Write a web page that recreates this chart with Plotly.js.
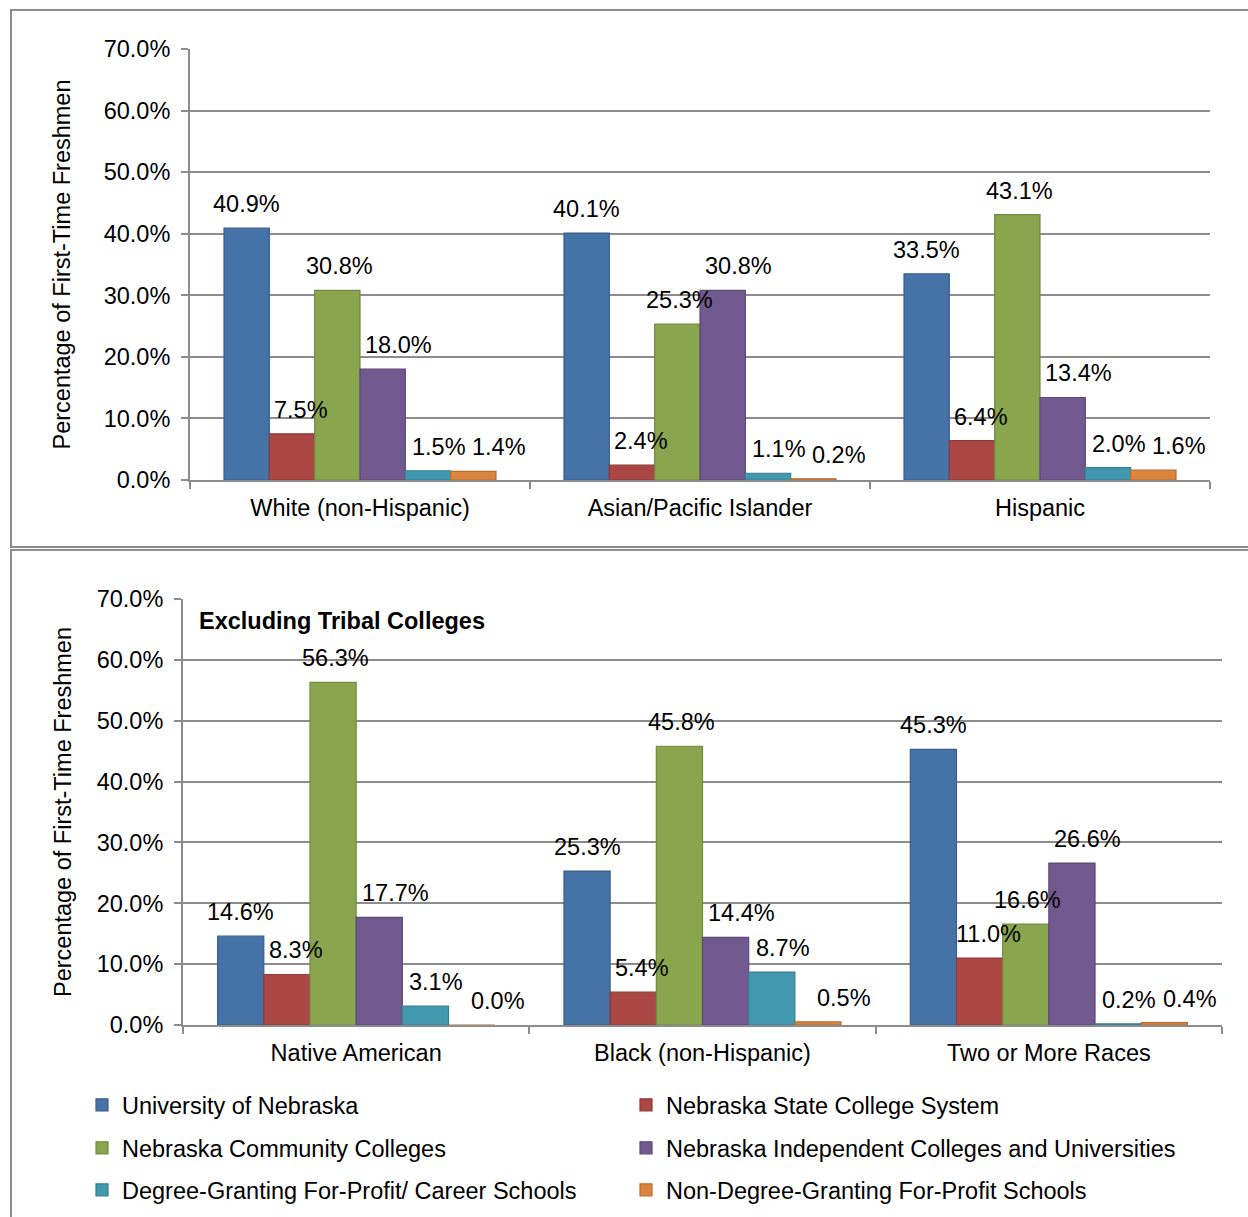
<!DOCTYPE html>
<html>
<head>
<meta charset="utf-8">
<script src="https://cdn.plot.ly/plotly-3.0.1.min.js"></script>
<style>
  html, body { margin: 0; padding: 0; background: #ffffff; }
  #chart { width: 1248px; height: 1217px; }
</style>
</head>
<body>
<div id="chart"></div>
<script>
// ---- Data ----
const categoriesTop = ['White (non-Hispanic)', 'Asian/Pacific Islander', 'Hispanic'];
const categoriesBottom = ['Native American', 'Black (non-Hispanic)', 'Two or More Races'];

const seriesNames = [
  'University of Nebraska',
  'Nebraska State College System',
  'Nebraska Community Colleges',
  'Nebraska Independent Colleges and Universities',
  'Degree-Granting For-Profit/ Career Schools',
  'Non-Degree-Granting For-Profit Schools'
];

// Top panel values (percent)
const univTop        = [40.9, 40.1, 33.5];
const stateTop       = [7.5, 2.4, 6.4];
const communityTop   = [30.8, 25.3, 43.1];
const independentTop = [18.0, 30.8, 13.4];
const degreeTop      = [1.5, 1.1, 2.0];
const nonDegreeTop   = [1.4, 0.2, 1.6];

// Bottom panel values (percent)
const univBottom        = [14.6, 25.3, 45.3];
const stateBottom       = [8.3, 5.4, 11.0];
const communityBottom   = [56.3, 45.8, 16.6];
const independentBottom = [17.7, 14.4, 26.6];
const degreeBottom      = [3.1, 8.7, 0.2];
const nonDegreeBottom   = [0.0, 0.5, 0.4];

const yTickValues = [0, 10, 20, 30, 40, 50, 60, 70];
const yAxisTitle = 'Percentage of First-Time Freshmen';
const bottomNote = 'Excluding Tribal Colleges';

// ---- Styling ----
const fillColors = ['#4572A7', '#AA4643', '#89A54E', '#71588F', '#4198AF', '#DB843D'];
const lineColors = ['#3B5F8A', '#8E3A38', '#718A40', '#5D4876', '#357E91', '#B86D31'];
const labelNudge = [0, 9, 2, 16, 11, 26];   // horizontal nudge of value labels per series (px)
const legendIds = ['legend', 'legend2', 'legend3', 'legend4', 'legend5', 'legend6'];
const FONT = 'Liberation Sans, Arial, Helvetica, sans-serif';
const FS = 23.5;
const GRID = '#8C8C8C';
const BARGAP = 0.2;

const topSeries = [univTop, stateTop, communityTop, independentTop, degreeTop, nonDegreeTop];
const bottomSeries = [univBottom, stateBottom, communityBottom, independentBottom, degreeBottom, nonDegreeBottom];

const fmt = v => v.toFixed(1) + '%';

const traces = [];
const annotations = [];
const nSeries = seriesNames.length;
const barW = (1 - BARGAP) / nSeries;

function addPanel(cats, series, xa, ya, showLegend) {
  seriesNames.forEach((name, i) => {
    traces.push({
      type: 'bar', name: name, x: cats, y: series[i],
      xaxis: xa, yaxis: ya, legendgroup: 's' + i, showlegend: showLegend,
      legend: legendIds[i],
      marker: { color: fillColors[i], line: { color: lineColors[i], width: 1.2 } },
      hovertemplate: '%{x}<br>' + name + ': %{y:.1f}%<extra></extra>'
    });
    series[i].forEach((v, j) => {
      annotations.push({
        xref: xa, yref: ya, x: j + (i - (nSeries - 1) / 2) * barW, y: v,
        text: fmt(v), showarrow: false, xanchor: 'center', yanchor: 'bottom',
        xshift: labelNudge[i], yshift: 9,
        font: { family: FONT, size: FS, color: '#000000' }
      });
    });
  });
}
addPanel(categoriesTop, topSeries, 'x', 'y', false);
addPanel(categoriesBottom, bottomSeries, 'x2', 'y2', true);

const W = 1248, H = 1217;
const px = v => v / W;
const py = v => (H - v) / H;

function yAxis(domain, anchor, standoff) {
  return {
    domain: domain, anchor: anchor, range: [0, 70],
    tickmode: 'array', tickvals: yTickValues, ticktext: yTickValues.map(fmt),
    showgrid: true, gridcolor: GRID, gridwidth: 2,
    showline: true, linecolor: GRID, linewidth: 2,
    ticks: 'outside', ticklen: 7, tickcolor: GRID, tickwidth: 2,
    zeroline: false, fixedrange: true,
    ticklabelstandoff: 6,
    tickfont: { family: FONT, size: FS, color: '#000000' },
    title: { text: yAxisTitle, standoff: standoff, font: { family: FONT, size: FS, color: '#000000' } }
  };
}
function xAxis(domain, anchor) {
  return {
    domain: domain, anchor: anchor, type: 'category', range: [-0.5, 2.5],
    showline: true, linecolor: GRID, linewidth: 2,
    ticks: 'outside', tickson: 'boundaries', ticklen: 7, tickcolor: GRID, tickwidth: 2,
    showgrid: false, zeroline: false, fixedrange: true,
    ticklabelstandoff: 6,
    tickfont: { family: FONT, size: FS, color: '#000000' }
  };
}
// legend entries: 2 columns x 3 rows, one single-item legend per entry
const legendCols = [82, 626];
const legendRows = [1105, 1148, 1190];
function legendBox(k) {
  return {
    orientation: 'h', xref: 'container', yref: 'container',
    x: px(legendCols[k % 2]), xanchor: 'left',
    y: py(legendRows[Math.floor(k / 2)]), yanchor: 'middle',
    font: { family: FONT, size: FS, color: '#000000' },
    bgcolor: 'rgba(0,0,0,0)', borderwidth: 0
  };
}

annotations.push({
  text: '<b>' + bottomNote + '</b>', xref: 'paper', yref: 'paper',
  x: px(197), y: py(621), xanchor: 'left', yanchor: 'middle', showarrow: false,
  font: { family: FONT, size: FS, color: '#000000' }
});

const layout = {
  width: W, height: H,
  margin: { l: 0, r: 0, t: 0, b: 0, autoexpand: false },
  paper_bgcolor: '#ffffff', plot_bgcolor: '#ffffff',
  font: { family: FONT, size: FS, color: '#000000' },
  barmode: 'group', bargap: BARGAP, bargroupgap: 0,
  xaxis: xAxis([px(190), px(1210)], 'y'),
  yaxis: yAxis([py(480), py(49)], 'x', 26),
  xaxis2: xAxis([px(183), px(1222)], 'y2'),
  yaxis2: yAxis([py(1025), py(599)], 'x2', 18),
  showlegend: true,
  shapes: [
    { type: 'rect', xref: 'paper', yref: 'paper', x0: px(11), x1: 1.05, y0: py(547), y1: py(10),
      line: { color: GRID, width: 2 }, fillcolor: 'rgba(0,0,0,0)', layer: 'below' },
    { type: 'rect', xref: 'paper', yref: 'paper', x0: px(11), x1: 1.05, y0: -0.05, y1: py(550),
      line: { color: GRID, width: 2 }, fillcolor: 'rgba(0,0,0,0)', layer: 'below' }
  ],
  annotations: annotations
};
legendIds.forEach((id, k) => { layout[id] = legendBox(k); });

Plotly.newPlot('chart', traces, layout, { staticPlot: true, displayModeBar: false });
</script>
</body>
</html>
